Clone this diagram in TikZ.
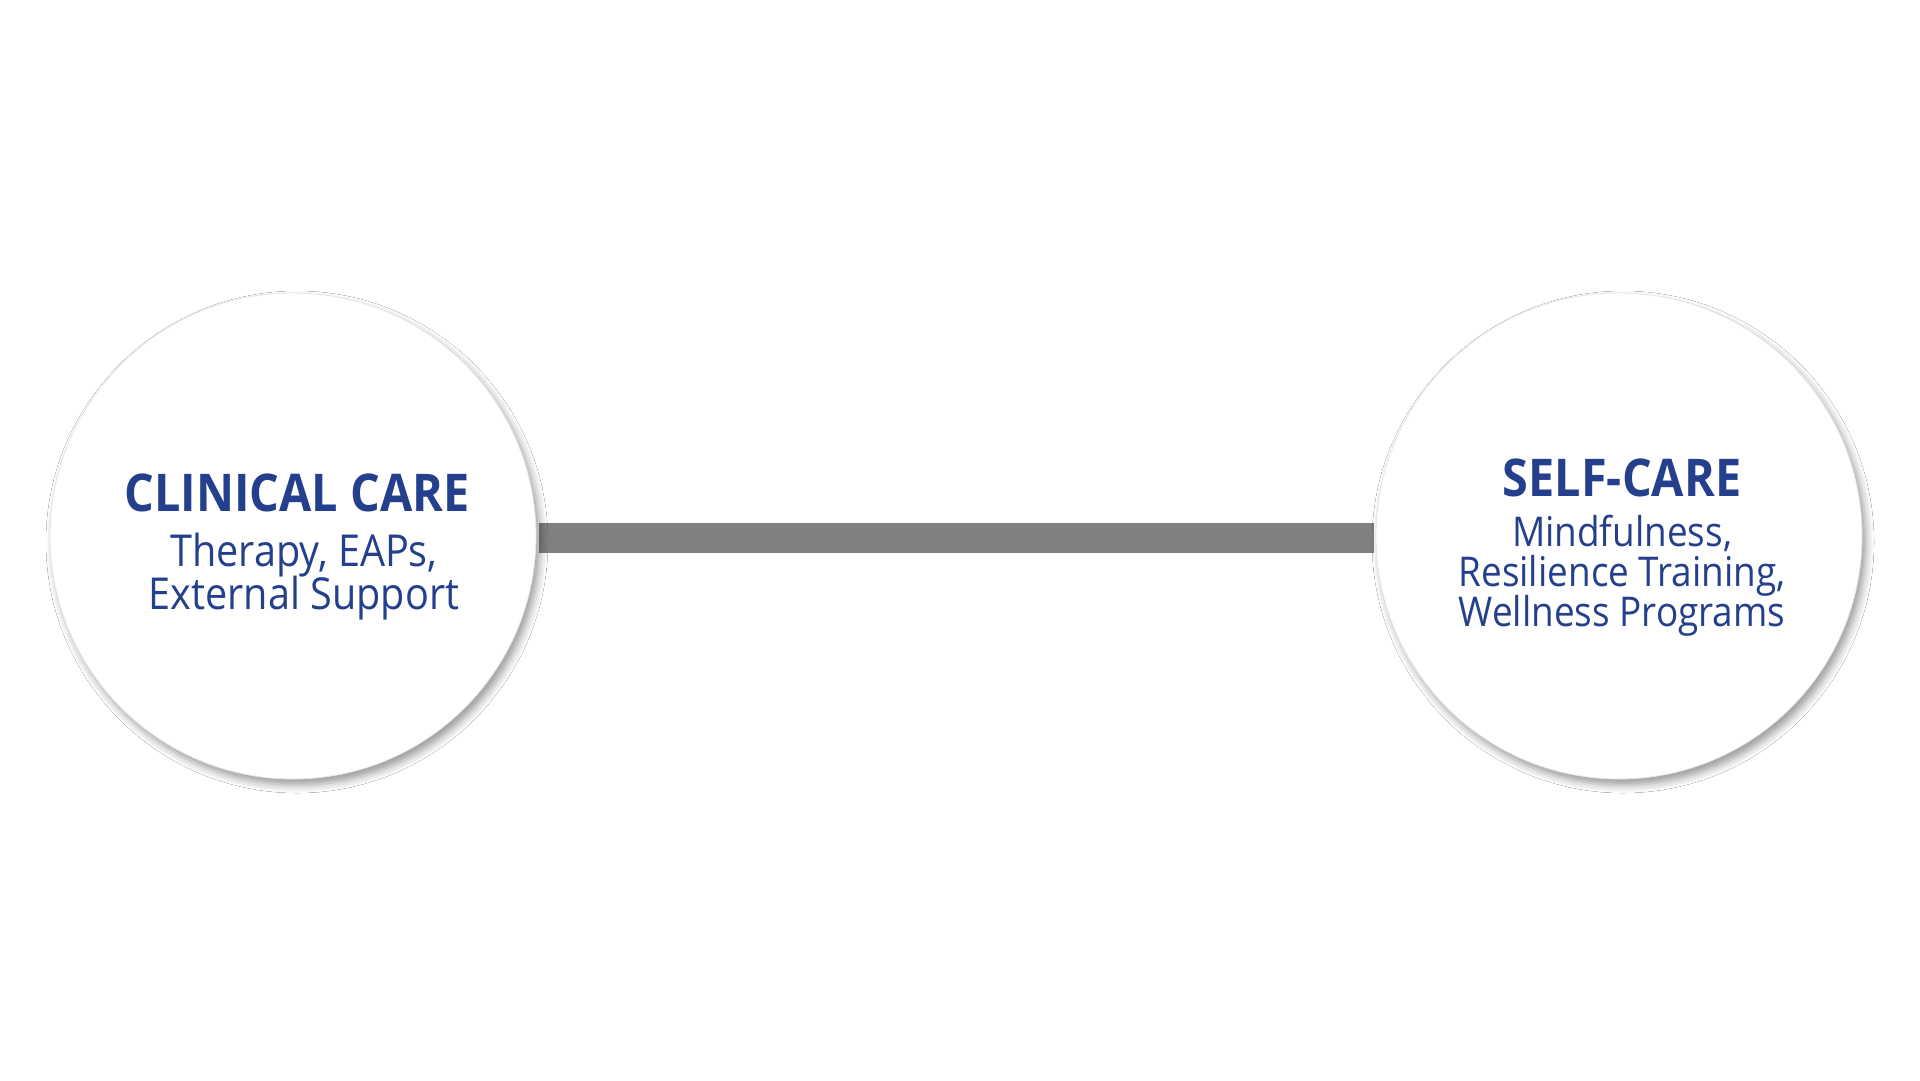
\documentclass[tikz,border=0pt]{standalone}
\usepackage{fontspec}
\setmainfont[FakeStretch=0.9]{Open Sans}
\usetikzlibrary{shadows.blur}
\definecolor{txtblue}{HTML}{243F8C}
\definecolor{bargray}{HTML}{808080}
\begin{document}
\begin{tikzpicture}[x=1pt,y=-1pt,
  bubble/.style={circle, minimum size=486pt, inner sep=0pt, fill=white, draw=black!10, line width=0.8pt,
    blur shadow={shadow xshift=4pt, shadow yshift=-6pt, shadow blur radius=8pt, shadow opacity=40}},
  ttl/.style={anchor=base, text=txtblue, inner sep=0pt, font=\fontsize{52}{60}\selectfont\bfseries},
  subl/.style={anchor=base, text=txtblue, inner sep=0pt, font=\fontsize{44}{48}\selectfont},
  subr/.style={anchor=base, text=txtblue, inner sep=0pt, font=\fontsize{41}{45}\selectfont},
  bar/.style={draw=bargray, line width=30pt, line cap=butt}
]
\useasboundingbox (0,0) rectangle (1920,1080);
\fill[white] (0,0) rectangle (1920,1080);
\coordinate (barL) at (539,537.5);
\coordinate (barR) at (1374,537.5);
\draw[bar] (barL) -- (barR);
\node[bubble] (L) at (293,536) {};
\node[bubble] (R) at (1619,536) {};
\node[ttl] (Lt) at (297,511) {CLINICAL CARE};
\node[subl] (Ls1) at (304,566) {Therapy, EAPs,};
\node[subl] (Ls2) at (304,609) {External Support};
\node[ttl] (Rt) at (1622,496) {SELF-CARE};
\node[subr] (Rs1) at (1622,546) {Mindfulness,};
\node[subr] (Rs2) at (1622,586) {Resilience Training,};
\node[subr] (Rs3) at (1622,626) {Wellness Programs};
\end{tikzpicture}
\end{document}
